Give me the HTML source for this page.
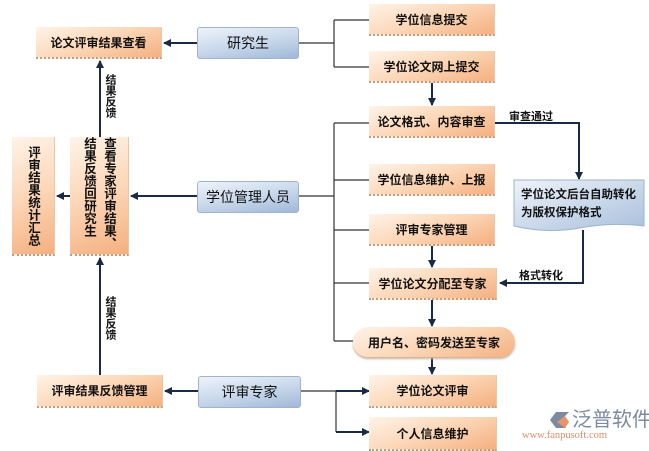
<!DOCTYPE html>
<html><head><meta charset="utf-8"><style>
body{margin:0;width:649px;height:451px;background:#fff;position:relative;overflow:hidden;font-family:"Liberation Sans","Noto Sans CJK SC",sans-serif;}
.o,.b{position:absolute;box-sizing:border-box;display:flex;align-items:center;justify-content:center;font-weight:bold;color:#111;font-size:12px;white-space:nowrap;}
.o{background:linear-gradient(160deg,#fff3e8 0%,#fcd6b6 50%,#f4b080 100%);border-bottom:2px dotted #b9a08a;border-right:1px solid #e8c7a8;}
.b{background:linear-gradient(170deg,#eef3fa 0%,#c6d6ea 55%,#9fb8d8 100%);border:1px solid #9fb3cc;border-radius:3px;font-size:14px;font-weight:normal;color:#111;}
.v{writing-mode:vertical-rl;line-height:20px;white-space:normal;}
.l{position:absolute;font-size:11px;font-weight:bold;color:#111;}
svg{position:absolute;left:0;top:0;}
</style></head><body>
<svg width="649" height="451">
<defs><marker id="a" markerWidth="8" markerHeight="8" refX="7" refY="4" orient="auto" markerUnits="userSpaceOnUse"><path d="M0,0L8,4L0,8z" fill="#1a2a44"/></marker>
<linearGradient id="g" x1="0" y1="0" x2="1" y2="1"><stop offset="0" stop-color="#eef3fa"/><stop offset="1" stop-color="#a9c0dc"/></linearGradient></defs>
<g stroke="#333" stroke-width="1.2" fill="none">
<path d="M299,43H334M334,20V67M334,20H369M334,67H369"/>
<path d="M299,196H334M334,123V341M334,123H369M334,180H369M334,230H369M334,283H369M334,341H355"/>
<path d="M300,391H336V432"/>
</g>
<g stroke="#1a2a44" stroke-width="2" fill="none">
<path d="M197,43H164" marker-end="url(#a)"/>
<path d="M100,137V61" marker-end="url(#a)"/>
<path d="M197,196H131" marker-end="url(#a)"/>
<path d="M70,196H57" marker-end="url(#a)"/>
<path d="M100,375V258" marker-end="url(#a)"/>
<path d="M198,391H165" marker-end="url(#a)"/>
<path d="M432,83V105" marker-end="url(#a)"/>
<path d="M494,123H579V179" marker-end="url(#a)"/>
<path d="M583,230V283H500" marker-end="url(#a)"/>
<path d="M432,246V267" marker-end="url(#a)"/>
<path d="M432,300V326" marker-end="url(#a)"/>
<path d="M432,357V374" marker-end="url(#a)"/>
<path d="M336,391H369" marker-end="url(#a)"/>
<path d="M336,432H369" marker-end="url(#a)"/>
</g>
<path d="M514,180H644V226Q612,222 580,228T514,226Z" fill="url(#g)" stroke="#9fb3cc"/>
<path d="M556,412l-6,8 6,8h10l-5,-8 8,-8z" fill="#7d8aa0"/><path d="M557,422l8,-6 4,6 -4,6z" fill="#e8936a"/>
</svg>
<div class="o" style="left:36px;top:27px;width:126px;height:32px">论文评审结果查看</div>
<div class="b" style="left:197px;top:27px;width:102px;height:32px">研究生</div>
<div class="b" style="left:197px;top:181px;width:102px;height:32px">学位管理人员</div>
<div class="b" style="left:198px;top:376px;width:103px;height:32px">评审专家</div>
<div class="o v" style="left:12px;top:137px;width:43px;height:119px;font-size:12.5px">评审结果统计汇总</div>
<div class="o v" style="left:70px;top:137px;width:59px;height:119px;font-size:12.5px">查看专家评审结果、结果反馈回研究生</div>
<div class="o" style="left:37px;top:375px;width:126px;height:33px">评审结果反馈管理</div>
<div class="o" style="left:369px;top:4px;width:126px;height:32px">学位信息提交</div>
<div class="o" style="left:369px;top:51px;width:126px;height:32px">学位论文网上提交</div>
<div class="o" style="left:369px;top:106px;width:126px;height:32px">论文格式、内容审查</div>
<div class="o" style="left:369px;top:164px;width:126px;height:32px">学位信息维护、上报</div>
<div class="o" style="left:369px;top:214px;width:126px;height:32px">评审专家管理</div>
<div class="o" style="left:369px;top:268px;width:128px;height:32px">学位论文分配至专家</div>
<div class="o" style="left:353px;top:327px;width:162px;height:30px;border-radius:15px;border:none;box-shadow:0 2px 2px #c9b39f">用户名、密码发送至专家</div>
<div class="o" style="left:369px;top:375px;width:128px;height:33px">学位论文评审</div>
<div class="o" style="left:369px;top:417px;width:128px;height:34px">个人信息维护</div>
<div class="l" style="left:521px;top:186px;width:118px;font-size:11.5px;line-height:18px">学位论文后台自助转化为版权保护格式</div>
<div class="l v" style="left:103px;top:74px;line-height:14px">结果反馈</div>
<div class="l v" style="left:103px;top:296px;line-height:14px">结果反馈</div>
<div class="l" style="left:509px;top:108px">审查通过</div>
<div class="l" style="left:519px;top:267px">格式转化</div>
<div style="position:absolute;left:572px;top:403px;font-size:20px;color:#7d8aa0;white-space:nowrap">泛普软件</div>
<div style="position:absolute;left:522px;top:430px;font-size:10.5px;color:#d9906a;white-space:nowrap;font-family:'Liberation Serif',serif">www.fanpusoft.com</div>
</body></html>
